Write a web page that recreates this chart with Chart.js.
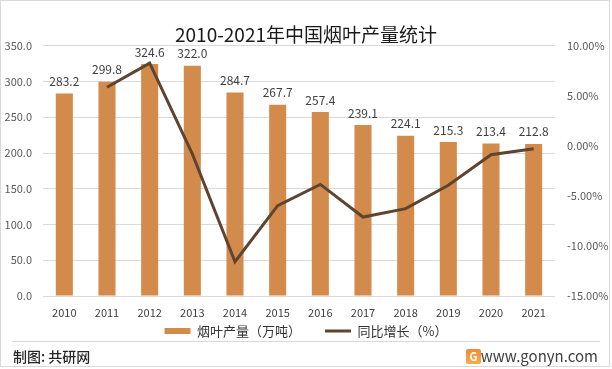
<!DOCTYPE html>
<html>
<head>
<meta charset="utf-8">
<script src="https://cdn.jsdelivr.net/npm/chart.js@4"></script>
<style>
html,body{margin:0;padding:0;background:#fff;}
#wrap{position:relative;width:612px;height:369px;overflow:hidden;}
#wrap:after{content:"";position:absolute;left:0;top:0;width:608px;height:365px;border:1px solid #d9d9d9;pointer-events:none;}
canvas{display:block;}
</style>
</head>
<body>
<div id="wrap"><canvas id="c" width="612" height="369"></canvas></div>
<script>
const years = ['2010','2011','2012','2013','2014','2015','2016','2017','2018','2019','2020','2021'];
const output = [283.2, 299.8, 324.6, 322.0, 284.7, 267.7, 257.4, 239.1, 224.1, 215.3, 213.4, 212.8];
const growth = [null, 5.86, 8.27, -0.80, -11.58, -5.97, -3.85, -7.11, -6.27, -3.93, -0.88, -0.28];
const titleText = '2010-2021年中国烟叶产量统计';
const seriesNames = ['烟叶产量（万吨）', '同比增长（%）'];
const footerLeft = '制图: 共研网';
const footerRight = 'www.gonyn.com';

const FONT = '"Noto Sans CJK SC", "Noto Sans", sans-serif';
const BAR = '#D38B4C';
const LINE = '#5E4532';

const labelPlugin = {
  id: 'barLabels',
  afterDatasetsDraw(chart) {
    const ctx = chart.ctx;
    const meta = chart.getDatasetMeta(0);
    ctx.save();
    ctx.font = '12px ' + FONT;
    ctx.fillStyle = '#404040';
    ctx.textAlign = 'center';
    ctx.textBaseline = 'middle';
    meta.data.forEach((el, i) => {
      ctx.fillText(output[i].toFixed(1), el.x, el.y - 12);
    });
    ctx.restore();
  }
};

// move the legend row up closer to the axis labels
const legendShift = {
  id: 'legendShift',
  afterLayout(chart) {
    const lg = chart.legend;
    if (lg) { lg.top -= 19.5; lg.bottom -= 19.5; }
  }
};

const footerPlugin = {
  id: 'footer',
  afterDraw(chart) {
    const ctx = chart.ctx;
    ctx.save();
    ctx.strokeStyle = '#d9d9d9';
    ctx.lineWidth = 1;
    ctx.beginPath();
    ctx.moveTo(12, 341.5);
    ctx.lineTo(600, 341.5);
    ctx.stroke();
    ctx.font = '500 14px ' + FONT;
    ctx.fillStyle = '#262626';
    ctx.textBaseline = 'middle';
    ctx.textAlign = 'left';
    ctx.fillText(footerLeft, 13, 357);
    ctx.font = '15px ' + FONT;
    ctx.fillStyle = '#404040';
    ctx.textAlign = 'right';
    ctx.fillText(footerRight, 598, 356);
    const g = ctx.createLinearGradient(0, 349, 0, 365);
    g.addColorStop(0, '#F08A3C');
    g.addColorStop(1, '#F5B04A');
    ctx.fillStyle = g;
    ctx.beginPath();
    ctx.roundRect(466, 349, 15, 15, 2);
    ctx.fill();
    ctx.fillStyle = '#ffffff';
    ctx.font = 'bold 11px ' + FONT;
    ctx.textAlign = 'center';
    ctx.fillText('G', 473.5, 357);
    ctx.restore();
  }
};

new Chart(document.getElementById('c'), {
  data: {
    labels: years,
    datasets: [
      {
        type: 'bar',
        label: seriesNames[0],
        data: output,
        backgroundColor: BAR,
        borderWidth: 0,
        barPercentage: 0.4,
        categoryPercentage: 1.0,
        yAxisID: 'y',
        order: 2
      },
      {
        type: 'line',
        label: seriesNames[1],
        data: growth,
        borderColor: LINE,
        backgroundColor: LINE,
        borderWidth: 3,
        pointRadius: 0,
        tension: 0,
        yAxisID: 'y1',
        order: 1
      }
    ]
  },
  options: {
    responsive: false,
    animation: false,
    devicePixelRatio: 1,
    layout: { padding: { top: 0, left: 0, right: 0, bottom: 2 } },
    plugins: {
      title: {
        display: true,
        text: titleText,
        color: '#1a1a1a',
        font: { family: FONT, size: 19, weight: 'normal' },
        padding: { top: 23, bottom: 0 }
      },
      legend: {
        position: 'bottom',
        labels: {
          color: '#333333',
          font: { family: FONT, size: 13 },
          usePointStyle: true,
          boxWidth: 26,
          boxHeight: 6,
          pointStyleWidth: 26,
          padding: 24,
          generateLabels(chart) {
            return [
              { text: seriesNames[0], fillStyle: BAR, strokeStyle: BAR, lineWidth: 0, pointStyle: 'rect', datasetIndex: 0, hidden: false, fontColor: '#333333' },
              { text: seriesNames[1], fillStyle: LINE, strokeStyle: LINE, lineWidth: 3, pointStyle: 'line', datasetIndex: 1, hidden: false, fontColor: '#333333' }
            ];
          }
        }
      },
      tooltip: { enabled: false }
    },
    scales: {
      x: {
        grid: { display: false, drawTicks: false },
        border: { display: false },
        ticks: { color: '#404040', font: { family: FONT, size: 11 }, padding: 10, maxRotation: 0 },
        afterFit(s) { s.height = 24; }
      },
      y: {
        position: 'left',
        min: 0, max: 350,
        ticks: { stepSize: 50, color: '#595959', font: { family: FONT, size: 11 }, padding: 11,
          callback: v => v.toFixed(1) },
        grid: { color: '#d9d9d9', drawTicks: false },
        border: { display: false },
        afterFit(s) { s.width = 43; }
      },
      y1: {
        position: 'right',
        min: -15, max: 10,
        ticks: { stepSize: 5, color: '#595959', font: { family: FONT, size: 11 }, padding: 12,
          callback: v => v.toFixed(2) + '%' },
        grid: { display: false, drawTicks: false },
        border: { display: false },
        afterFit(s) { s.width = 57; }
      }
    }
  },
  plugins: [labelPlugin, legendShift, footerPlugin]
});
</script>
</body>
</html>
